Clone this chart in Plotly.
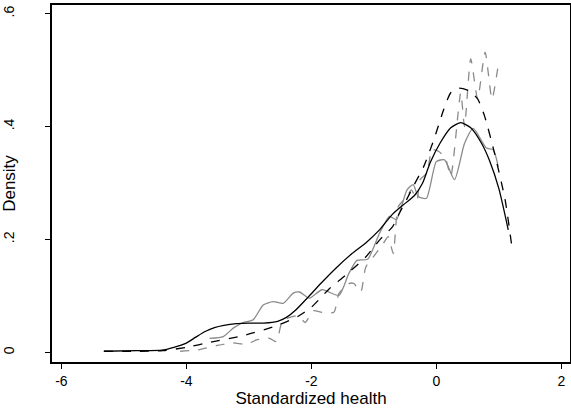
import plotly.graph_objects as go

# ---- data ----
x_black_solid = [-5.32, -4.8, -4.39, -4.2, -4.01, -3.85, -3.7, -3.55, -3.4, -3.2, -3.0, -2.76, -2.54, -2.4,
                 -2.25, -2.05, -1.85, -1.6, -1.35, -1.13, -0.91, -0.7, -0.5, -0.35, -0.22, -0.1, 0.06, 0.23,
                 0.39, 0.55, 0.72, 0.85, 1.0, 1.15]
y_black_solid = [0.002, 0.003, 0.004, 0.009, 0.016, 0.027, 0.037, 0.044, 0.048, 0.051, 0.052, 0.052, 0.055,
                 0.062, 0.075, 0.098, 0.122, 0.150, 0.175, 0.194, 0.217, 0.245, 0.264, 0.278, 0.300, 0.336,
                 0.371, 0.398, 0.407, 0.398, 0.371, 0.340, 0.290, 0.217]

x_black_dash = [-5.32, -4.8, -4.38, -4.0, -3.62, -3.08, -2.54, -2.21, -2.0, -1.72, -1.45, -1.13, -0.91, -0.70,
                -0.59, -0.48, -0.37, -0.20, -0.04, 0.12, 0.23, 0.36, 0.53, 0.66, 0.77, 0.93, 1.10, 1.22]
y_black_dash = [0.002, 0.002, 0.003, 0.009, 0.018, 0.030, 0.048, 0.064, 0.080, 0.112, 0.137, 0.169, 0.199,
                0.223, 0.247, 0.270, 0.294, 0.330, 0.377, 0.431, 0.460, 0.468, 0.463, 0.449, 0.419, 0.353,
                0.270, 0.177]

x_gray_solid = [-3.63, -3.41, -3.25, -3.09, -2.93, -2.77, -2.61, -2.45, -2.29, -2.19, -2.03, -1.83, -1.56,
                -1.40, -1.27, -1.10, -0.91, -0.75, -0.64, -0.47, -0.37, -0.29, -0.16, 0.0, 0.13, 0.29, 0.45,
                0.59, 0.80, 0.91, 0.99]
y_gray_solid = [0.025, 0.028, 0.043, 0.053, 0.058, 0.084, 0.090, 0.087, 0.105, 0.107, 0.096, 0.111, 0.101,
                0.140, 0.163, 0.165, 0.211, 0.241, 0.235, 0.288, 0.297, 0.276, 0.273, 0.338, 0.341, 0.306,
                0.370, 0.397, 0.362, 0.359, 0.329]

x_gray_dash = [-4.10, -3.79, -3.52, -3.26, -3.04, -2.88, -2.67, -2.56, -2.46, -2.21, -2.10, -1.97, -1.83,
               -1.64, -1.56, -1.40, -1.32, -1.21, -1.13, -0.99, -0.85, -0.77, -0.69, -0.61, -0.47, -0.40,
               -0.31, -0.26, -0.15, -0.07, 0.04, 0.15, 0.23, 0.39, 0.45, 0.55, 0.66, 0.78, 0.89, 1.0]
y_gray_dash = [0.002, 0.005, 0.012, 0.017, 0.014, 0.022, 0.025, 0.019, 0.056, 0.065, 0.053, 0.074, 0.071,
               0.071, 0.104, 0.122, 0.122, 0.107, 0.151, 0.172, 0.193, 0.205, 0.175, 0.258, 0.276, 0.288,
               0.270, 0.306, 0.318, 0.359, 0.356, 0.342, 0.312, 0.460, 0.400, 0.520, 0.449, 0.532, 0.449,
               0.517]

x_tick_vals = [-6, -4, -2, 0, 2]
x_tick_text = ["-6", "-4", "-2", "0", "2"]
y_tick_vals = [0, 0.2, 0.4, 0.6]
y_tick_text = ["0", ".2", ".4", ".6"]

FONT = "Liberation Sans, Arial, Helvetica, sans-serif"

fig = go.Figure()
series = [
    (x_gray_solid, y_gray_solid, "#8a8a8a", "solid"),
    (x_gray_dash, y_gray_dash, "#8a8a8a", "dash"),
    (x_black_dash, y_black_dash, "black", "dash"),
    (x_black_solid, y_black_solid, "black", "solid"),
]
for xs, ys, col, dash in series:
    fig.add_trace(go.Scatter(x=xs, y=ys, mode="lines",
                             line=dict(color=col, width=1.3, dash=dash, shape="spline", smoothing=0.6),
                             showlegend=False, hoverinfo="skip"))

fig.update_layout(
    width=571, height=409,
    margin=dict(l=52, r=1, t=5, b=47),
    paper_bgcolor="white", plot_bgcolor="white",
    font=dict(family=FONT, size=14, color="black"),
    showlegend=False,
)
fig.update_xaxes(range=[-6.15, 2.138], tickvals=x_tick_vals, ticktext=x_tick_text, automargin=False,
                 showgrid=False, zeroline=False, showline=True, linecolor="black", linewidth=1.5,
                 mirror=True, ticks="outside", ticklen=5, tickwidth=1, tickcolor="black",
                 title=dict(text="Standardized health", standoff=0), tickfont=dict(size=14))
fig.update_yaxes(range=[-0.017, 0.6154], tickvals=y_tick_vals, ticktext=y_tick_text, automargin=False,
                 showgrid=False, zeroline=False, showline=True, linecolor="black", linewidth=1.5,
                 mirror=True, ticks="outside", ticklen=5, tickwidth=1, tickcolor="black",
                 tickangle=-90, ticklabelstandoff=26,
                 title=dict(text="Density", standoff=0), tickfont=dict(size=14))

fig.write_html("out.html", config={"displayModeBar": False},
               post_script="document.body.style.margin='0px';")
